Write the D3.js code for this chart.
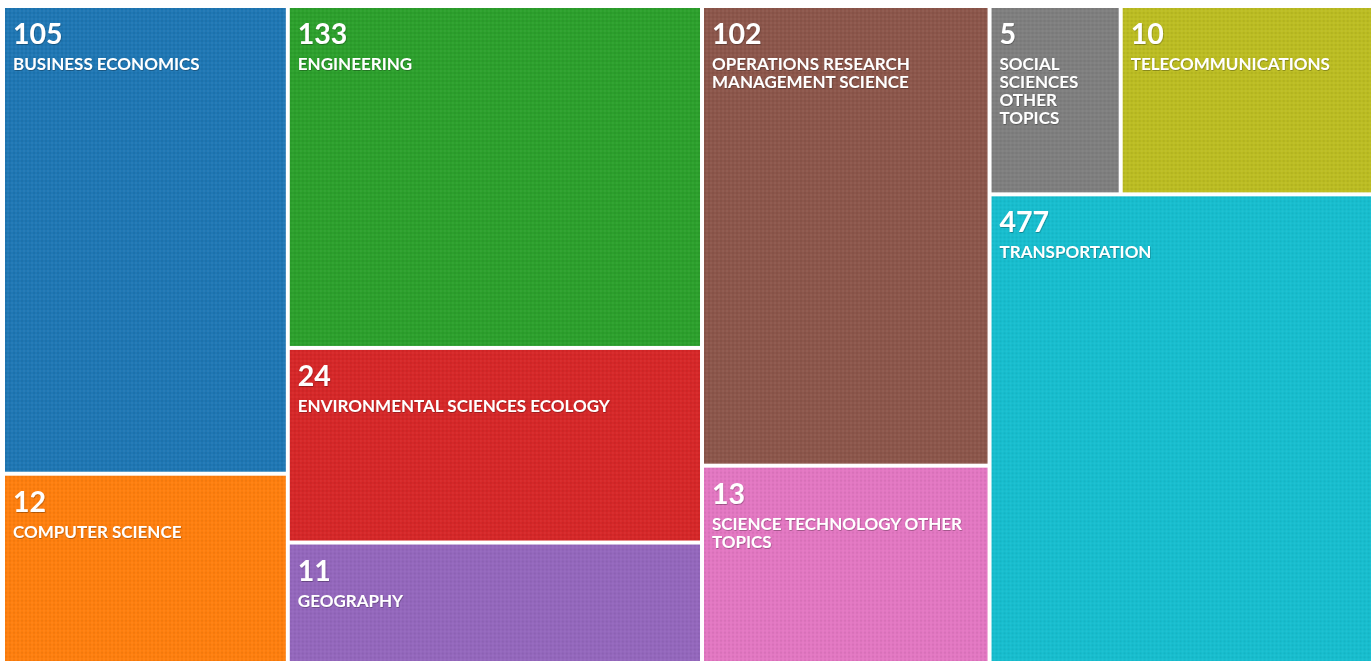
<!DOCTYPE html>
<html>
<head>
<meta charset="utf-8">
<script src="https://cdn.jsdelivr.net/npm/d3@7"></script>
<style>
  body { margin: 0; background: #fff; }
  svg { display: block; }
</style>
</head>
<body>
<div id="chart"></div>
<script>
// research areas, record counts
const categories = [
  "BUSINESS ECONOMICS",
  "COMPUTER SCIENCE",
  "ENGINEERING",
  "ENVIRONMENTAL SCIENCES ECOLOGY",
  "GEOGRAPHY",
  "OPERATIONS RESEARCH MANAGEMENT SCIENCE",
  "SCIENCE TECHNOLOGY OTHER TOPICS",
  "SOCIAL SCIENCES OTHER TOPICS",
  "TELECOMMUNICATIONS",
  "TRANSPORTATION"
];
const counts = [105, 12, 133, 24, 11, 102, 13, 5, 10, 477];

const width = 1371,
  height = 661;

const svg = d3
  .select("#chart")
  .append("svg")
  .attr("width", width)
  .attr("height", height)
  .style("font-family", "Lato, 'Open Sans', sans-serif");

//Subtle dotted texture like the original tiles
const defs = svg.append("defs");
const pat = defs
  .append("pattern")
  .attr("id", "dots")
  .attr("width", 4)
  .attr("height", 4)
  .attr("patternUnits", "userSpaceOnUse");
pat.append("rect").attr("width", 2).attr("height", 2).style("fill", "#000").style("opacity", 0.05);
pat.append("rect").attr("x", 2).attr("y", 2).attr("width", 2).attr("height", 2).style("fill", "#fff").style("opacity", 0.04);

const shadow = defs.append("filter").attr("id", "shadow");
shadow
  .append("feDropShadow")
  .attr("dx", 0.5)
  .attr("dy", 0.8)
  .attr("stdDeviation", 0.6)
  .attr("flood-color", "#000")
  .attr("flood-opacity", 0.35);

const color = d3.scaleOrdinal().domain(categories).range(d3.schemeCategory10);

//tile area grows with the log of the count
const sizeScale = d3.scaleLog().domain([2.5, d3.max(counts)]).range([0, 1]);

const data = categories.map((c, i) => ({ name: c, count: counts[i] }));

const root = d3
  .hierarchy({ children: data })
  .sum((d) => (d.count ? sizeScale(d.count) : 0));

//the tree is a little larger than the window, right and bottom edges run off
d3.treemap().tile(d3.treemapSquarify).size([1376, 660]).paddingInner(4)(root);

const g = svg.append("g").attr("transform", "translate(5,8)");

const cell = g
  .selectAll(".cell")
  .data(root.leaves())
  .enter()
  .append("g")
  .attr("class", "cell")
  .attr("transform", (d) => "translate(" + d.x0 + "," + d.y0 + ")");

cell
  .append("rect")
  .attr("width", (d) => d.x1 - d.x0)
  .attr("height", (d) => d.y1 - d.y0)
  .style("fill", (d) => color(d.data.name));

cell
  .append("rect")
  .attr("width", (d) => d.x1 - d.x0)
  .attr("height", (d) => d.y1 - d.y0)
  .style("fill", "url(#dots)");

//count
cell
  .append("text")
  .attr("x", 8)
  .attr("y", 36)
  .style("font-size", "28.5px")
  .style("font-weight", 700)
  .style("fill", "#fff")
  .style("filter", "url(#shadow)")
  .text((d) => d.data.count);

//label, wrapped to the tile width
cell.each(function (d) {
  const maxW = d.x1 - d.x0 - 20;
  const text = d3
    .select(this)
    .append("text")
    .attr("x", 8)
    .attr("y", 62)
    .style("font-size", "17px")
    .style("font-weight", 700)
    .style("fill", "#fff")
    .style("filter", "url(#shadow)");
  let words = d.data.name.split(/\s+/).reverse(),
    word,
    line = [],
    lineNumber = 0,
    tspan = text.append("tspan").attr("x", 8).attr("y", 62);
  while ((word = words.pop())) {
    line.push(word);
    tspan.text(line.join(" "));
    if (tspan.node().getComputedTextLength() > maxW && line.length > 1) {
      line.pop();
      tspan.text(line.join(" "));
      line = [word];
      tspan = text
        .append("tspan")
        .attr("x", 8)
        .attr("y", 62 + ++lineNumber * 18)
        .text(word);
    }
  }
});
</script>
</body>
</html>
